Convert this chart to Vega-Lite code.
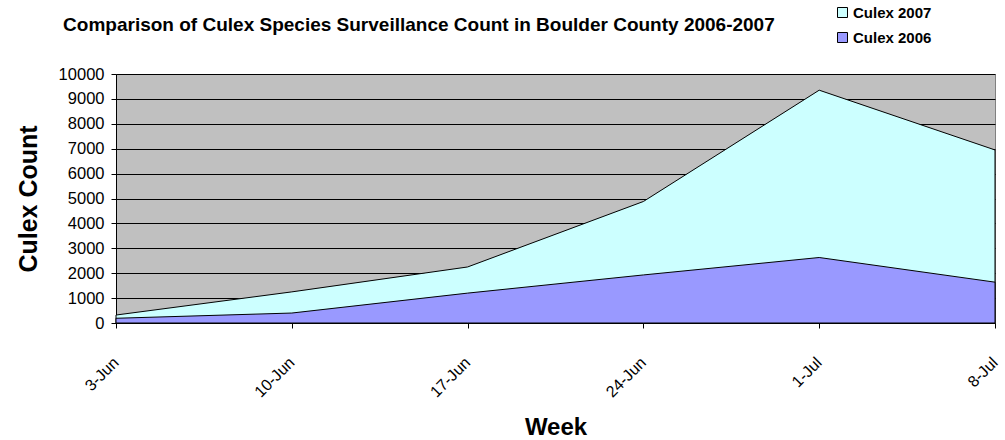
{
  "$schema": "https://vega.github.io/schema/vega-lite/v6.json",
  "autosize": "none",
  "width": 879,
  "height": 249,
  "padding": {"left": 116, "top": 74, "right": 10, "bottom": 117},
  "background": "white",
  "config": {
    "font": "Liberation Sans",
    "view": {"fill": "#C0C0C0", "stroke": "#808080", "strokeWidth": 1}
  },
  "title": {
    "text": "Comparison of Culex Species Surveillance Count in Boulder County 2006-2007",
    "anchor": "start",
    "dx": 47,
    "offset": -30,
    "fontSize": 19,
    "fontWeight": "bold",
    "color": "black",
    "font": "Liberation Sans"
  },
  "data": {
    "values": [
      {"week": "3-Jun", "series": "Culex 2007", "count": 320},
      {"week": "10-Jun", "series": "Culex 2007", "count": 1250},
      {"week": "17-Jun", "series": "Culex 2007", "count": 2250},
      {"week": "24-Jun", "series": "Culex 2007", "count": 4880},
      {"week": "1-Jul", "series": "Culex 2007", "count": 9350},
      {"week": "8-Jul", "series": "Culex 2007", "count": 6950},
      {"week": "3-Jun", "series": "Culex 2006", "count": 190},
      {"week": "10-Jun", "series": "Culex 2006", "count": 400},
      {"week": "17-Jun", "series": "Culex 2006", "count": 1200},
      {"week": "24-Jun", "series": "Culex 2006", "count": 1930},
      {"week": "1-Jul", "series": "Culex 2006", "count": 2630},
      {"week": "8-Jul", "series": "Culex 2006", "count": 1640}
    ]
  },
  "encoding": {
    "x": {
      "field": "week",
      "type": "ordinal",
      "sort": ["3-Jun", "10-Jun", "17-Jun", "24-Jun", "1-Jul", "8-Jul"],
      "scale": {"type": "point", "padding": 0},
      "axis": {
        "title": "Week",
        "titleFontSize": 24,
        "titleFontWeight": "bold",
        "titleColor": "black",
        "titlePadding": 16,
        "labelAngle": -45,
        "labelFontSize": 16,
        "labelColor": "black",
        "labelPadding": 26,
        "labelOffset": -6,
        "domainColor": "black",
        "tickColor": "black",
        "tickSize": 5,
        "grid": false
      }
    },
    "y": {
      "field": "count",
      "type": "quantitative",
      "stack": null,
      "scale": {"domain": [0, 10000], "nice": false},
      "axis": {
        "title": "Culex Count",
        "titleFontSize": 25,
        "titleFontWeight": "bold",
        "titleColor": "black",
        "titlePadding": 17,
        "format": "d",
        "values": [0, 1000, 2000, 3000, 4000, 5000, 6000, 7000, 8000, 9000, 10000],
        "labelFontSize": 16.5,
        "labelColor": "black",
        "labelPadding": 7,
        "domainColor": "black",
        "tickColor": "black",
        "tickSize": 5,
        "grid": true,
        "gridColor": "black",
        "gridOpacity": 1,
        "gridWidth": 1
      }
    },
    "color": {
      "field": "series",
      "type": "nominal",
      "scale": {"domain": ["Culex 2007", "Culex 2006"], "range": ["#CCFFFF", "#9999FF"]},
      "legend": {
        "title": null,
        "orient": "none",
        "legendX": 719,
        "legendY": -69,
        "symbolType": "square",
        "symbolSize": 100,
        "symbolStrokeColor": "black",
        "symbolStrokeWidth": 1,
        "symbolOpacity": 1,
        "labelFontSize": 15,
        "labelFontWeight": "bold",
        "labelColor": "black",
        "labelOffset": 3,
        "rowPadding": 9
      }
    }
  },
  "layer": [
    {
      "transform": [{"filter": "datum.series == 'Culex 2007'"}],
      "mark": {"type": "area", "stroke": "black", "strokeWidth": 1, "opacity": 1}
    },
    {
      "transform": [{"filter": "datum.series == 'Culex 2006'"}],
      "mark": {"type": "area", "stroke": "black", "strokeWidth": 1, "opacity": 1}
    }
  ]
}
